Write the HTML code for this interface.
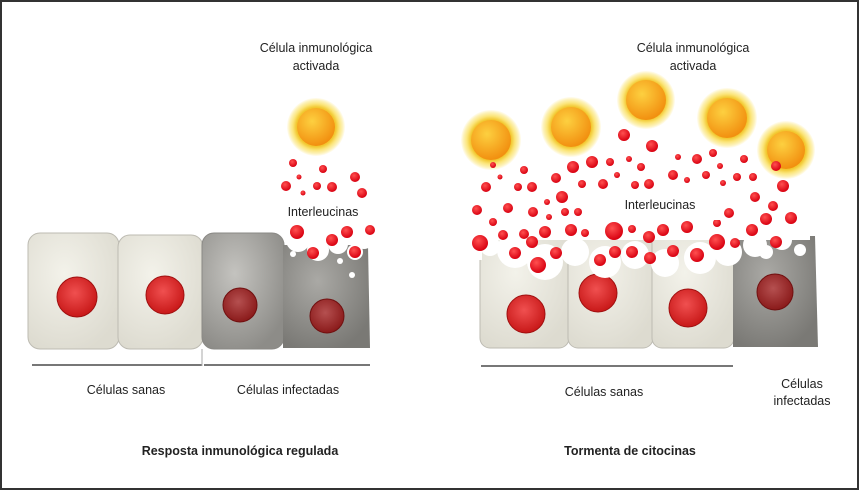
<!DOCTYPE html>
<html><head><meta charset="utf-8"><style>
html,body{margin:0;padding:0;background:#fff;}
svg{display:block;}
text{font-family:"Liberation Sans Narrow","Liberation Sans",sans-serif;font-size:12.5px;fill:#222;}
</style></head><body>
<svg width="859" height="490" viewBox="0 0 859 490" xmlns="http://www.w3.org/2000/svg">
<defs>
<radialGradient id="lc" cx="40%" cy="35%" r="70%"><stop offset="0" stop-color="#f3f2ea"/><stop offset="1" stop-color="#dddbd0"/></radialGradient>
<radialGradient id="dc" cx="40%" cy="35%" r="70%"><stop offset="0" stop-color="#c4c3bf"/><stop offset="1" stop-color="#8d8c88"/></radialGradient>
<radialGradient id="dc2" cx="40%" cy="35%" r="70%"><stop offset="0" stop-color="#aaa9a5"/><stop offset="1" stop-color="#7a7975"/></radialGradient>
<radialGradient id="nu" cx="45%" cy="40%" r="60%"><stop offset="0" stop-color="#f05050"/><stop offset="1" stop-color="#c81818"/></radialGradient>
<radialGradient id="nd" cx="45%" cy="40%" r="60%"><stop offset="0" stop-color="#b55050"/><stop offset="1" stop-color="#8a1a1a"/></radialGradient>
<radialGradient id="halo" r="50%"><stop offset="0.68" stop-color="#f2c830"/><stop offset="0.8" stop-color="#fbe57a"/><stop offset="0.93" stop-color="#fdf3c0"/><stop offset="1" stop-color="#fff6d0" stop-opacity="0.3"/></radialGradient>
<radialGradient id="core" cx="40%" cy="35%" r="65%"><stop offset="0" stop-color="#fdd040"/><stop offset="1" stop-color="#f29010"/></radialGradient>
<radialGradient id="dot" cx="40%" cy="35%" r="65%"><stop offset="0" stop-color="#ff5050"/><stop offset="1" stop-color="#d80010"/></radialGradient>
</defs>
<rect x="1" y="1" width="857" height="488" fill="#fff" stroke="#333" stroke-width="2"/>

<!-- LEFT PANEL -->
<rect x="28" y="233" width="91" height="116" rx="12" fill="url(#lc)" stroke="#bdbbb2"/>
<rect x="118" y="235" width="85" height="114" rx="12" fill="url(#lc)" stroke="#bdbbb2"/>
<rect x="202" y="233" width="82" height="116" rx="12" fill="url(#dc)" stroke="#8a8985"/>
<path d="M283 245 L368 245 L370 348 L283 348 Z" fill="url(#dc2)"/>
<circle cx="77" cy="297" r="20" fill="url(#nu)" stroke="#a01010"/>
<circle cx="165" cy="295" r="19" fill="url(#nu)" stroke="#a01010"/>
<circle cx="240" cy="305" r="17" fill="url(#nd)" stroke="#701010"/>
<circle cx="327" cy="316" r="17" fill="url(#nd)" stroke="#701010"/>
<line x1="32" y1="365" x2="202" y2="365" stroke="#777" stroke-width="2"/>
<line x1="204" y1="365" x2="370" y2="365" stroke="#777" stroke-width="2"/>
<line x1="202" y1="349" x2="202" y2="366" stroke="#aaa"/>
<g fill="#fff">
<circle cx="298" cy="240" r="12"/><circle cx="318" cy="250" r="11"/><circle cx="338" cy="244" r="10"/><circle cx="355" cy="252" r="8"/><circle cx="364" cy="240" r="9"/>
<circle cx="293" cy="254" r="3"/><circle cx="352" cy="275" r="3"/><circle cx="340" cy="261" r="3"/>
</g>
<circle cx="316" cy="127" r="29" fill="url(#halo)"/>
<circle cx="316" cy="127" r="19" fill="url(#core)"/>
<g fill="url(#dot)">
<circle cx="293" cy="163" r="4"/><circle cx="323" cy="169" r="4"/><circle cx="299" cy="177" r="2.5"/><circle cx="355" cy="177" r="5"/>
<circle cx="286" cy="186" r="5"/><circle cx="317" cy="186" r="4"/><circle cx="332" cy="187" r="5"/><circle cx="362" cy="193" r="5"/><circle cx="303" cy="193" r="2.5"/>
<circle cx="297" cy="232" r="7"/><circle cx="347" cy="232" r="6"/><circle cx="370" cy="230" r="5"/><circle cx="332" cy="240" r="6"/><circle cx="313" cy="253" r="6"/><circle cx="355" cy="252" r="6"/>
</g>
<rect x="272" y="199" width="100" height="26" fill="#fff"/>
<text x="323" y="216" text-anchor="middle">Interleucinas</text>

<text x="316" y="52" text-anchor="middle">Célula inmunológica</text>
<text x="316" y="70" text-anchor="middle">activada</text>
<text x="126" y="394" text-anchor="middle">Células  sanas</text>
<text x="288" y="394" text-anchor="middle">Células infectadas</text>
<text x="240" y="455" text-anchor="middle" style="font-weight:bold">Resposta inmunológica regulada</text>

<!-- RIGHT PANEL -->
<rect x="480" y="232" width="89" height="116" rx="10" fill="url(#lc)" stroke="#bdbbb2"/>
<rect x="568" y="232" width="85" height="116" rx="10" fill="url(#lc)" stroke="#bdbbb2"/>
<rect x="652" y="232" width="82" height="116" rx="10" fill="url(#lc)" stroke="#bdbbb2"/>
<path d="M733 236 L815 236 L818 347 L733 347 Z" fill="url(#dc2)"/>
<circle cx="526" cy="314" r="19" fill="url(#nu)" stroke="#a01010"/>
<circle cx="598" cy="293" r="19" fill="url(#nu)" stroke="#a01010"/>
<circle cx="688" cy="308" r="19" fill="url(#nu)" stroke="#a01010"/>
<circle cx="775" cy="292" r="18" fill="url(#nd)" stroke="#701010"/>
<line x1="481" y1="366" x2="733" y2="366" stroke="#777" stroke-width="2"/>
<g fill="#fff">
<rect x="470" y="85" width="340" height="155"/>
<rect x="470" y="230" width="12" height="30"/>
<circle cx="515" cy="250" r="18"/><circle cx="545" cy="262" r="18"/><circle cx="575" cy="252" r="14"/>
<circle cx="605" cy="262" r="16"/><circle cx="635" cy="255" r="14"/><circle cx="665" cy="263" r="14"/>
<circle cx="700" cy="258" r="16"/><circle cx="728" cy="252" r="14"/><circle cx="755" cy="245" r="12"/>
<circle cx="782" cy="240" r="10"/><circle cx="766" cy="252" r="7"/><circle cx="800" cy="250" r="6"/>
<circle cx="490" cy="246" r="10"/>
</g>
<g>
<circle cx="491" cy="140" r="30" fill="url(#halo)"/><circle cx="491" cy="140" r="20" fill="url(#core)"/>
<circle cx="571" cy="127" r="30" fill="url(#halo)"/><circle cx="571" cy="127" r="20" fill="url(#core)"/>
<circle cx="646" cy="100" r="29" fill="url(#halo)"/><circle cx="646" cy="100" r="20" fill="url(#core)"/>
<circle cx="727" cy="118" r="30" fill="url(#halo)"/><circle cx="727" cy="118" r="20" fill="url(#core)"/>
<circle cx="786" cy="150" r="29" fill="url(#halo)"/><circle cx="786" cy="150" r="19" fill="url(#core)"/>
</g>
<g fill="url(#dot)">
<circle cx="493" cy="165" r="3"/><circle cx="524" cy="170" r="4"/><circle cx="500" cy="177" r="2.5"/><circle cx="486" cy="187" r="5"/><circle cx="518" cy="187" r="4"/><circle cx="532" cy="187" r="5"/>
<circle cx="556" cy="178" r="5"/><circle cx="573" cy="167" r="6"/><circle cx="592" cy="162" r="6"/><circle cx="610" cy="162" r="4"/><circle cx="629" cy="159" r="3"/><circle cx="624" cy="135" r="6"/><circle cx="652" cy="146" r="6"/>
<circle cx="641" cy="167" r="4"/><circle cx="617" cy="175" r="3"/><circle cx="603" cy="184" r="5"/><circle cx="635" cy="185" r="4"/><circle cx="649" cy="184" r="5"/><circle cx="582" cy="184" r="4"/>
<circle cx="562" cy="197" r="6"/><circle cx="547" cy="202" r="3"/><circle cx="477" cy="210" r="5"/><circle cx="508" cy="208" r="5"/><circle cx="533" cy="212" r="5"/><circle cx="493" cy="222" r="4"/><circle cx="549" cy="217" r="3"/><circle cx="565" cy="212" r="4"/><circle cx="578" cy="212" r="4"/>
<circle cx="503" cy="235" r="5"/><circle cx="524" cy="234" r="5"/><circle cx="545" cy="232" r="6"/><circle cx="571" cy="230" r="6"/><circle cx="480" cy="243" r="8"/><circle cx="532" cy="242" r="6"/><circle cx="515" cy="253" r="6"/><circle cx="538" cy="265" r="8"/><circle cx="556" cy="253" r="6"/>
<circle cx="585" cy="233" r="4"/><circle cx="614" cy="231" r="9"/><circle cx="632" cy="229" r="4"/><circle cx="649" cy="237" r="6"/><circle cx="663" cy="230" r="6"/><circle cx="687" cy="227" r="6"/><circle cx="717" cy="242" r="8"/><circle cx="735" cy="243" r="5"/><circle cx="752" cy="230" r="6"/><circle cx="766" cy="219" r="6"/><circle cx="791" cy="218" r="6"/>
<circle cx="729" cy="213" r="5"/><circle cx="755" cy="197" r="5"/><circle cx="773" cy="206" r="5"/><circle cx="783" cy="186" r="6"/><circle cx="776" cy="166" r="5"/><circle cx="753" cy="177" r="4"/><circle cx="737" cy="177" r="4"/><circle cx="706" cy="175" r="4"/><circle cx="720" cy="166" r="3"/><circle cx="713" cy="153" r="4"/><circle cx="744" cy="159" r="4"/><circle cx="697" cy="159" r="5"/><circle cx="678" cy="157" r="3"/><circle cx="673" cy="175" r="5"/>
<circle cx="615" cy="252" r="6"/><circle cx="632" cy="252" r="6"/><circle cx="650" cy="258" r="6"/><circle cx="673" cy="251" r="6"/><circle cx="697" cy="255" r="7"/><circle cx="600" cy="260" r="6"/><circle cx="776" cy="242" r="6"/><circle cx="717" cy="223" r="4"/><circle cx="687" cy="180" r="3"/><circle cx="723" cy="183" r="3"/>
</g>
<rect x="598" y="190" width="122" height="30" fill="#fff"/>
<text x="660" y="209" text-anchor="middle">Interleucinas</text>

<text x="693" y="52" text-anchor="middle">Célula inmunológica</text>
<text x="693" y="70" text-anchor="middle">activada</text>
<text x="604" y="396" text-anchor="middle">Células sanas</text>
<text x="802" y="388" text-anchor="middle">Células</text>
<text x="802" y="405" text-anchor="middle">infectadas</text>
<text x="630" y="455" text-anchor="middle" style="font-weight:bold">Tormenta de citocinas</text>
</svg>
</body></html>
